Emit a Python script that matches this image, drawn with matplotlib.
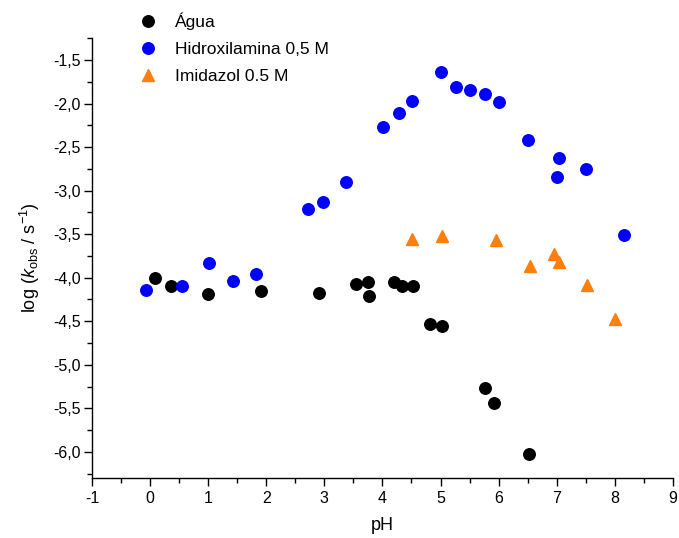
import matplotlib
matplotlib.use("Agg")
import matplotlib.pyplot as plt
from matplotlib.ticker import MultipleLocator, FuncFormatter

plt.rcParams['font.family'] = ['Liberation Sans', 'DejaVu Sans']
plt.rcParams['mathtext.fontset'] = 'custom'
plt.rcParams['mathtext.rm'] = 'Liberation Sans'
plt.rcParams['mathtext.it'] = 'Liberation Sans:italic'

agua_ph = [0.08, 0.36, 1.0, 1.91, 2.91, 3.54, 3.75, 3.77, 4.2, 4.34, 4.52, 4.82, 5.02, 5.76, 5.92, 6.52]
agua_log = [-4.0, -4.1, -4.19, -4.15, -4.17, -4.07, -4.05, -4.21, -4.05, -4.1, -4.1, -4.53, -4.56, -5.27, -5.44, -6.02]

hidrox_ph = [-0.07, 0.55, 1.01, 1.43, 1.82, 2.72, 2.98, 3.37, 4.01, 4.28, 4.51, 5.01, 5.27, 5.51, 5.76, 6.0, 6.5, 7.04, 7.0, 7.5, 8.16]
hidrox_log = [-4.14, -4.1, -3.83, -4.04, -3.96, -3.21, -3.13, -2.9, -2.27, -2.11, -1.97, -1.64, -1.81, -1.85, -1.89, -1.98, -2.42, -2.62, -2.84, -2.75, -3.51]

imid_ph = [4.51, 5.02, 5.95, 6.54, 6.95, 7.04, 7.52, 8.0]
imid_log = [-3.56, -3.52, -3.57, -3.87, -3.73, -3.82, -4.08, -4.47]

labels = ['Água', 'Hidroxilamina 0,5 M', 'Imidazol 0.5 M']

fig = plt.figure(figsize=(6.79, 5.38), dpi=100)
ax = fig.add_axes([0.1355, 0.1115, 0.8555, 0.8175])

ax.plot(agua_ph, agua_log, 'o', color='black', markersize=8.3, label=labels[0], linestyle='none')
ax.plot(hidrox_ph, hidrox_log, 'o', color='#0000ff', markersize=8.3, label=labels[1], linestyle='none')
ax.plot(imid_ph, imid_log, '^', color='#ff7f0e', markersize=8.3, label=labels[2], linestyle='none')

ax.set_xlim(-1, 9)
ax.set_ylim(-6.3, -1.25)
ax.xaxis.set_major_locator(MultipleLocator(1))
ax.xaxis.set_minor_locator(MultipleLocator(0.5))
ax.yaxis.set_major_locator(MultipleLocator(0.5))
ax.yaxis.set_minor_locator(MultipleLocator(0.25))
ax.yaxis.set_major_formatter(FuncFormatter(lambda v, p: f"{v:.1f}".replace('.', ',')))
ax.xaxis.set_major_formatter(FuncFormatter(lambda v, p: f"{v:.0f}"))

for s in ['top', 'right']:
    ax.spines[s].set_visible(False)
for s in ['left', 'bottom']:
    ax.spines[s].set_linewidth(1.0)
ax.tick_params(which='major', direction='out', length=6, width=1, labelsize=11.5)
ax.tick_params(axis='y', which='major', pad=2)
ax.tick_params(which='minor', direction='out', length=3.5, width=1)

ax.set_xlabel('pH', fontsize=13, labelpad=8)
ax.set_ylabel(r'log ($\mathit{k}_{\mathrm{obs}}$ / s$^{-1}$)', fontsize=13, labelpad=8)

leg = ax.legend(loc='upper left', bbox_to_anchor=(0.055, 1.075), frameon=False, fontsize=12.5,
                handletextpad=0.55, labelspacing=0.7, borderaxespad=0.0, handlelength=2.0)

fig.savefig('out.png', dpi=100)
